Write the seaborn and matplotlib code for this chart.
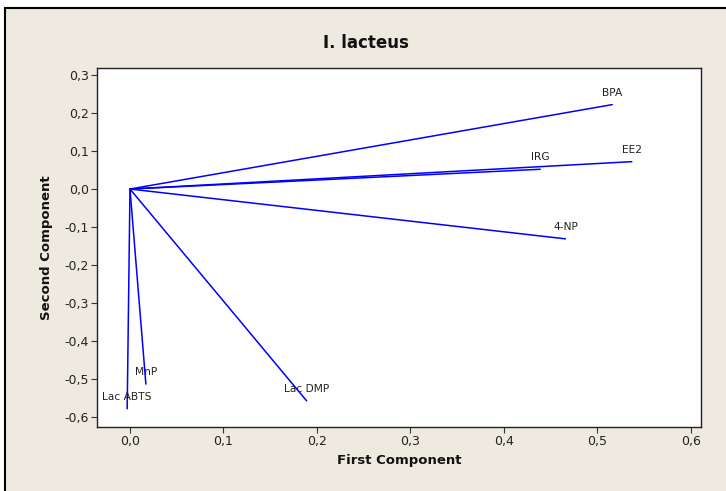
import matplotlib
matplotlib.use("Agg")
import matplotlib.pyplot as plt
import seaborn as sns
import pandas as pd
from matplotlib.patches import Rectangle
from matplotlib.lines import Line2D

variables = ["BPA", "EE2", "IRG", "4-NP", "Lac DMP", "MnP", "Lac ABTS"]
first_comp = [0.516, 0.537, 0.439, 0.466, 0.189, 0.017, -0.003]
second_comp = [0.222, 0.072, 0.052, -0.131, -0.557, -0.513, -0.578]
x_ticks = [0.0, 0.1, 0.2, 0.3, 0.4, 0.5, 0.6]
y_ticks = [0.3, 0.2, 0.1, 0.0, -0.1, -0.2, -0.3, -0.4, -0.5, -0.6]

sns.set_theme(style="white")
plt.rcParams["font.family"] = ["DejaVu Sans"]

bg = "#EEEAE0"
W, H = 726, 491
fig = plt.figure(figsize=(7.26, 4.91), dpi=100, facecolor="white")

# beige panel with border on top and left only
fig.add_artist(Rectangle((5/W, 0), 1 - 5/W, 1 - 8/H, transform=fig.transFigure,
                         facecolor=bg, edgecolor="none", zorder=-10))
fig.add_artist(Line2D([5/W, 1], [1 - 8/H, 1 - 8/H], transform=fig.transFigure,
                      color="black", linewidth=1.5, zorder=-5))
fig.add_artist(Line2D([5/W, 5/W], [0, 1 - 8/H], transform=fig.transFigure,
                      color="black", linewidth=1.5, zorder=-5))

ax = fig.add_axes([97/W, 1-426.7/H, (701-97)/W, (426.7-68.3)/H])
ax.set_zorder(1)
ax.set_facecolor("white")

rows = []
for v, x, y in zip(variables, first_comp, second_comp):
    rows.append({"var": v, "x": 0.0, "y": 0.0})
    rows.append({"var": v, "x": x, "y": y})
df = pd.DataFrame(rows)
sns.lineplot(data=df, x="x", y="y", units="var", estimator=None, sort=False,
             color="#0000FF", linewidth=1.1, ax=ax, legend=False)

for v, x, y in zip(variables, first_comp, second_comp):
    ax.annotate(v, (x, y), xytext=(0, 12), textcoords="offset pixels",
                ha="center", va="center", fontsize=7.7, color="#222222")

ax.set_xlim(-0.0353, 0.611)
ax.set_ylim(-0.625, 0.3175)
ax.set_xticks(x_ticks)
ax.set_yticks(y_ticks)
ax.set_xticklabels([f"{t:.1f}".replace(".", ",") for t in x_ticks], fontsize=9, color="#222222")
ax.set_yticklabels([f"{t:.1f}".replace(".", ",").replace("-0,0", "0,0") for t in y_ticks], fontsize=9, color="#222222")
ax.tick_params(axis="both", direction="out", length=4, width=0.8, color="#333333", left=True, bottom=True, pad=2)
for s in ax.spines.values():
    s.set_color("#222222")
    s.set_linewidth(1.0)

ax.set_xlabel("First Component", fontsize=9.5, fontweight="bold", color="#111111", labelpad=4)
ax.set_ylabel("Second Component", fontsize=9.5, fontweight="bold", color="#111111", labelpad=8)

fig.text(366/W, 1-43/H, "I. lacteus", ha="center", va="center",
         fontsize=12, fontweight="bold", color="#111111")

fig.savefig("out.png", dpi=100, facecolor="white")
